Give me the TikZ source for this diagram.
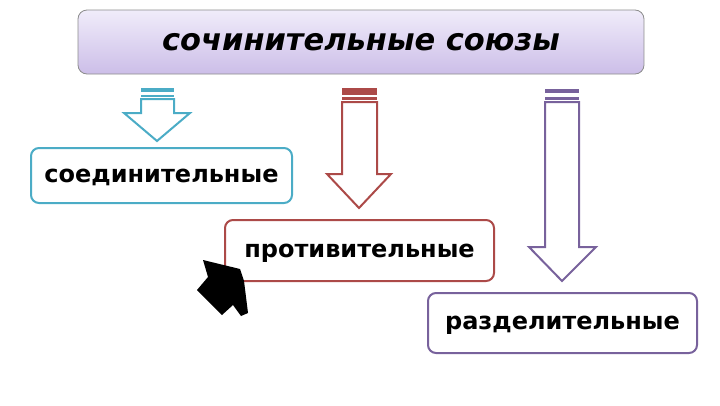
\documentclass[tikz,border=0pt]{standalone}
\usepackage{fontspec}
\setmainfont{DejaVu Sans}
\begin{document}
\begin{tikzpicture}[x=1pt,y=-1pt,
  titlebox/.style={draw=black!45, line width=0.8pt, rounded corners=9pt, top color=titletop, bottom color=titlebot,
     minimum width=566pt, minimum height=64pt, inner sep=0pt,
     font=\fontsize{30.5}{36}\selectfont\bfseries\itshape},
  kindbox/.style={draw=#1, line width=2pt, rounded corners=8pt, fill=white, inner sep=0pt, text depth=0pt,
     font=\fontsize{24}{29}\selectfont\bfseries},
  blockarrow/.style={draw=#1, line width=2pt, fill=white, line join=miter}]
\definecolor{titletop}{RGB}{240,236,250}
\definecolor{titlebot}{RGB}{204,190,232}
\definecolor{teal}{RGB}{75,172,198}
\definecolor{redb}{RGB}{172,74,72}
\definecolor{purp}{RGB}{120,98,156}
\useasboundingbox (0,0) rectangle (720,405);

\node[titlebox] (title) at (361,42) {сочинительные союзы};

\node[kindbox=teal, minimum width=261pt, minimum height=55pt] (conn) at (161.5,175.5) {соединительные};
\node[kindbox=redb, minimum width=269pt, minimum height=61pt] (adv) at (359.5,250.5) {противительные};
\node[kindbox=purp, minimum width=269pt, minimum height=60pt] (disj) at (562.5,323) {разделительные};

% teal arrow
\fill[teal] (141,88) rectangle (174,92);
\fill[teal] (141,95) rectangle (174,97);
\draw[blockarrow=teal] (141,99) -- (141,113) -- (124,113) -- (157,141) -- (190,113) -- (174,113) -- (174,99) -- cycle;

% red arrow
\fill[redb] (342,88) rectangle (377,95);
\fill[redb] (342,97) rectangle (377,100);
\draw[blockarrow=redb] (342,102) -- (342,174) -- (327,174) -- (359,208) -- (391,174) -- (377,174) -- (377,102) -- cycle;

% purple arrow
\fill[purp] (545,89) rectangle (579,93);
\fill[purp] (545,97) rectangle (579,100);
\draw[blockarrow=purp] (545,102) -- (545,247) -- (529,247) -- (562,281) -- (596,247) -- (579,247) -- (579,102) -- cycle;

% black cursor
\fill[black] (203,260) -- (240,269) -- (244,281) -- (248,313) -- (241,316) -- (233,305) -- (222,315) -- (197,290) -- (208,277) -- cycle;
\end{tikzpicture}
\end{document}
